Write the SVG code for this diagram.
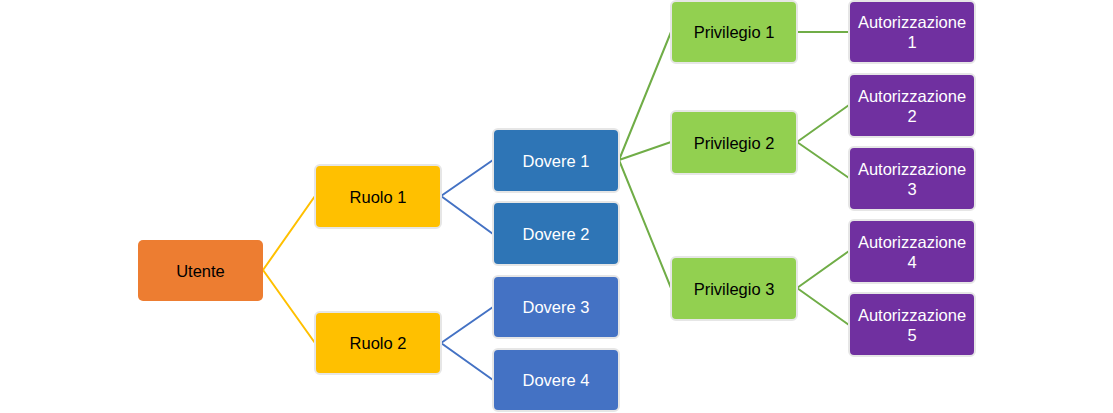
<svg xmlns="http://www.w3.org/2000/svg" width="1113" height="413" viewBox="0 0 1113 413">
<style>
.box{stroke:#e6e6e6;stroke-width:2}
.t{font-family:"Liberation Sans",Arial,sans-serif;font-size:16.5px;text-anchor:middle;dominant-baseline:central}
.dk{fill:#000}
.wh{fill:#fff}
.cy{stroke:#FFC000;stroke-width:2;fill:none}
.cb{stroke:#4472C4;stroke-width:2;fill:none}
.cg{stroke:#70AD47;stroke-width:2;fill:none}
</style>
<rect width="1113" height="413" fill="#fff"/>
<g id="connectors">
<path class="cy" d="M263,270 L315,196 M263,270 L315,343"/>
<path class="cb" d="M441,196 L493,160 M441,196 L493,234 M441,343 L493,307 M441,343 L493,380"/>
<path class="cg" d="M619,160 L671,32 M619,160 L671,142 M619,160 L671,288"/>
<path class="cg" d="M797,32 L849,32 M797,142 L849,105 M797,142 L849,178 M797,288 L849,251 M797,288 L849,325"/>
</g>
<g id="utente"><rect x="138" y="240" width="125" height="61" rx="5" fill="#ED7D31"/><text class="t dk" x="200.5" y="270.5">Utente</text></g>
<g id="ruolo1"><rect class="box" x="315" y="165" width="126" height="63" rx="5" fill="#FFC000"/><text class="t dk" x="378" y="196.5">Ruolo 1</text></g>
<g id="ruolo2"><rect class="box" x="315" y="312" width="126" height="62" rx="5" fill="#FFC000"/><text class="t dk" x="378" y="343">Ruolo 2</text></g>
<g id="dovere1"><rect class="box" x="493" y="129" width="126" height="63" rx="5" fill="#2E75B6"/><text class="t wh" x="556" y="160.5">Dovere 1</text></g>
<g id="dovere2"><rect class="box" x="493" y="202" width="126" height="63" rx="5" fill="#2E75B6"/><text class="t wh" x="556" y="233.5">Dovere 2</text></g>
<g id="dovere3"><rect class="box" x="493" y="276" width="126" height="62" rx="5" fill="#4472C4"/><text class="t wh" x="556" y="307">Dovere 3</text></g>
<g id="dovere4"><rect class="box" x="493" y="349" width="126" height="62" rx="5" fill="#4472C4"/><text class="t wh" x="556" y="380">Dovere 4</text></g>
<g id="privilegio1"><rect class="box" x="671" y="1" width="126" height="62" rx="5" fill="#92D050"/><text class="t dk" x="734" y="32">Privilegio 1</text></g>
<g id="privilegio2"><rect class="box" x="671" y="111" width="126" height="63" rx="5" fill="#92D050"/><text class="t dk" x="734" y="142.5">Privilegio 2</text></g>
<g id="privilegio3"><rect class="box" x="671" y="257" width="126" height="63" rx="5" fill="#92D050"/><text class="t dk" x="734" y="288.5">Privilegio 3</text></g>
<g id="autorizzazione1"><rect class="box" x="849" y="1" width="126" height="62" rx="5" fill="#7030A0"/><text class="t wh" x="912" y="22">Autorizzazione</text><text class="t wh" x="912" y="42">1</text></g>
<g id="autorizzazione2"><rect class="box" x="849" y="74" width="126" height="63" rx="5" fill="#7030A0"/><text class="t wh" x="912" y="95.5">Autorizzazione</text><text class="t wh" x="912" y="115.5">2</text></g>
<g id="autorizzazione3"><rect class="box" x="849" y="147" width="126" height="63" rx="5" fill="#7030A0"/><text class="t wh" x="912" y="168.5">Autorizzazione</text><text class="t wh" x="912" y="188.5">3</text></g>
<g id="autorizzazione4"><rect class="box" x="849" y="220" width="126" height="63" rx="5" fill="#7030A0"/><text class="t wh" x="912" y="241.5">Autorizzazione</text><text class="t wh" x="912" y="261.5">4</text></g>
<g id="autorizzazione5"><rect class="box" x="849" y="293" width="126" height="63" rx="5" fill="#7030A0"/><text class="t wh" x="912" y="314.5">Autorizzazione</text><text class="t wh" x="912" y="334.5">5</text></g>
</svg>
